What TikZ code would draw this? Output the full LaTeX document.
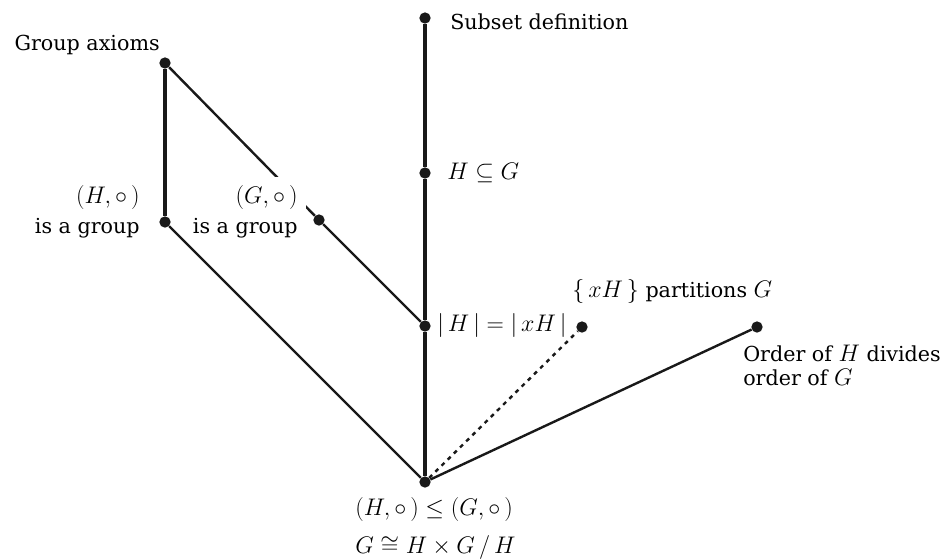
\RequirePackage{fix-cm}
\documentclass[tikz,border=0pt]{standalone}
\usepackage{amsmath,amssymb}
\usepackage{fontspec}
\setmainfont{DejaVu Serif}
\DeclareMathSizes{15.5}{18}{13}{10}
\usetikzlibrary{positioning}

\begin{document}
\begin{tikzpicture}[
  x=0.75pt, y=-0.75pt,
  dot/.style={circle, fill=black!90, inner sep=0pt, minimum size=8.5pt},
  link/.style={line width=1.8pt, black!90},
  spine/.style={line width=2.3pt, black!90},
  hint/.style={line width=1.8pt, black!90, dash pattern=on 3pt off 3.5pt},
  lbl/.style={inner sep=0pt, font=\fontsize{15.5}{17.5}\selectfont},
  font=\fontsize{15.5}{17.5}\selectfont
]
\useasboundingbox (0,0) rectangle (943,558);

% results
\node[dot] (subset) at (425,18)  {};
\node[dot] (axioms) at (165,63)  {};
\node[dot] (sub)    at (425,173) {};
\node[dot] (hgrp)   at (165,222) {};
\node[dot] (ggrp)   at (319,220) {};
\node[dot] (card)   at (425,326) {};
\node[dot] (part)   at (582,327) {};
\node[dot] (order)  at (757,327) {};
\node[dot] (lagr)   at (425,482) {};

\draw[spine] (subset) -- (sub) -- (card) -- (lagr);
\draw[spine] (axioms) -- (hgrp);
\draw[link] (axioms) -- (ggrp) -- (card);
\draw[hint] (lagr) -- (part);
\draw[link] (lagr) -- (order);

\node[lbl, anchor=base west] (subsetlbl) at (450,29) {Subset definition};
\node[lbl, anchor=base east] (axiomslbl) at (160,50) {Group axioms};
\node[lbl, anchor=base west] (sublbl) at (447,179) {$H \subseteq G$};
\node[lbl, anchor=base east, align=right] (hgrplbl) at (140,233)
  {$(H, \circ\,)$\\[5pt] is a group};
\node[lbl, anchor=base east, align=right, fill=white, inner sep=6pt] (ggrplbl) at (306,233)
  {$(G, \circ\,)$\\[5pt] is a group};
\node[lbl, anchor=base west] (cardlbl) at (437,331) {$|\,H\,| = |\,xH\,|$};
\node[lbl, anchor=base west] (partlbl) at (572,297) {$\{\,xH\,\}$ partitions $G$};
\node[lbl, anchor=base west, align=left] (orderlbl) at (743,385)
  {Order of $H$ divides\\order of $G$};
\node[lbl, anchor=base west, align=left] (lagrlbl) at (355,553)
  {$(H, \circ\,) \leq (G, \circ\,)$\\[9pt] $G \cong H \times G \,/\, H$};

\draw[link] (hgrp) -- (lagr);

\end{tikzpicture}
\end{document}
